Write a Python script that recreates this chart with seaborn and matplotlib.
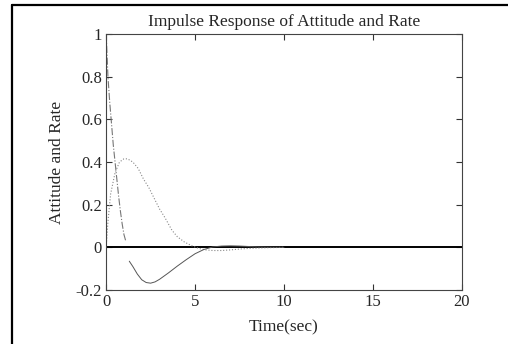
import matplotlib
matplotlib.use("Agg")
import matplotlib.pyplot as plt
import seaborn as sns
from matplotlib.lines import Line2D

# values
# attitude rate (dash-dot), decays quickly from 1
rate_t = [0, 0.05, 0.1, 0.2, 0.3, 0.4, 0.5, 0.6, 0.7, 0.8, 0.9, 1.0, 1.1]
rate_y = [1.0, 0.9, 0.8, 0.68, 0.58, 0.48, 0.4, 0.32, 0.24, 0.17, 0.11, 0.06, 0.03]

# attitude (dotted)
att_t = [0, 0.1, 0.25, 0.5, 0.75, 1.0, 1.2, 1.5, 1.8, 2.1, 2.4, 2.7, 3.0, 3.3, 3.7,
         4.0, 4.4, 4.8, 5.2, 5.6, 6.0, 6.5, 7.0, 7.5, 8.0, 9.0, 10.0]
att_y = [0, 0.12, 0.25, 0.35, 0.40, 0.415, 0.415, 0.40, 0.37, 0.32, 0.28, 0.23, 0.18, 0.14, 0.08,
         0.05, 0.025, 0.008, -0.005, -0.012, -0.015, -0.015, -0.012, -0.008, -0.005, -0.002, 0]

# solid response
sol_t = [1.3, 1.5, 1.75, 2.0, 2.25, 2.5, 2.75, 3.0, 3.5, 4.0, 4.5, 5.0, 5.5, 6.0,
         6.5, 7.0, 7.5, 8.0, 8.5, 9.0, 10.0]
sol_y = [-0.065, -0.09, -0.125, -0.152, -0.165, -0.168, -0.162, -0.15, -0.12, -0.088, -0.058, -0.03, -0.01, 0.002,
         0.006, 0.007, 0.006, 0.004, 0.002, 0.001, 0]

# zero reference line
zero_t = [0, 20]
zero_y = [0, 0]

x_ticks = [0, 5, 10, 15, 20]
y_ticks = [-0.2, 0, 0.2, 0.4, 0.6, 0.8, 1]
y_tick_labels = ["-0.2", "0", "0.2", "0.4", "0.6", "0.8", "1"]

sns.set_style("ticks")
plt.rcParams['font.family'] = ['Liberation Serif', 'DejaVu Serif']
plt.rcParams['xtick.direction'] = 'in'
plt.rcParams['ytick.direction'] = 'in'

fig = plt.figure(figsize=(5.08, 3.44), dpi=100)
ax = fig.add_axes([0.209, 0.157, 0.7, 0.744])

sns.lineplot(x=zero_t, y=zero_y, ax=ax, color="black", linewidth=1.4)
sns.lineplot(x=rate_t, y=rate_y, ax=ax, color="#777777", linewidth=0.8, linestyle="-.")
sns.lineplot(x=att_t, y=att_y, ax=ax, color="#888888", linewidth=0.8, linestyle=":")
sns.lineplot(x=sol_t, y=sol_y, ax=ax, color="#555555", linewidth=0.7)

ax.set_xlim(0, 20)
ax.set_ylim(-0.2, 1)
ax.set_xticks(x_ticks)
ax.set_xticklabels([str(v) for v in x_ticks])
ax.set_yticks(y_ticks)
ax.set_yticklabels(y_tick_labels)
ax.tick_params(labelsize=12, length=4, width=0.8, color="#333333",
               top=True, right=True, pad=3)
for s in ax.spines.values():
    s.set_linewidth(0.8)
    s.set_color("#444444")

ax.set_title("Impulse Response of Attitude and Rate", fontsize=12.5, pad=6)
ax.set_xlabel("Time(sec)", fontsize=12.5, labelpad=7)
ax.set_ylabel("Attitude and Rate", fontsize=12.5, labelpad=8)

# scanned page frame (left and top edges)
fig.add_artist(Line2D([0.024, 0.024], [0, 0.985], color="black", linewidth=1.6))
fig.add_artist(Line2D([0.024, 1.0], [0.985, 0.985], color="black", linewidth=1.6))

fig.savefig("out.png", dpi=100)
